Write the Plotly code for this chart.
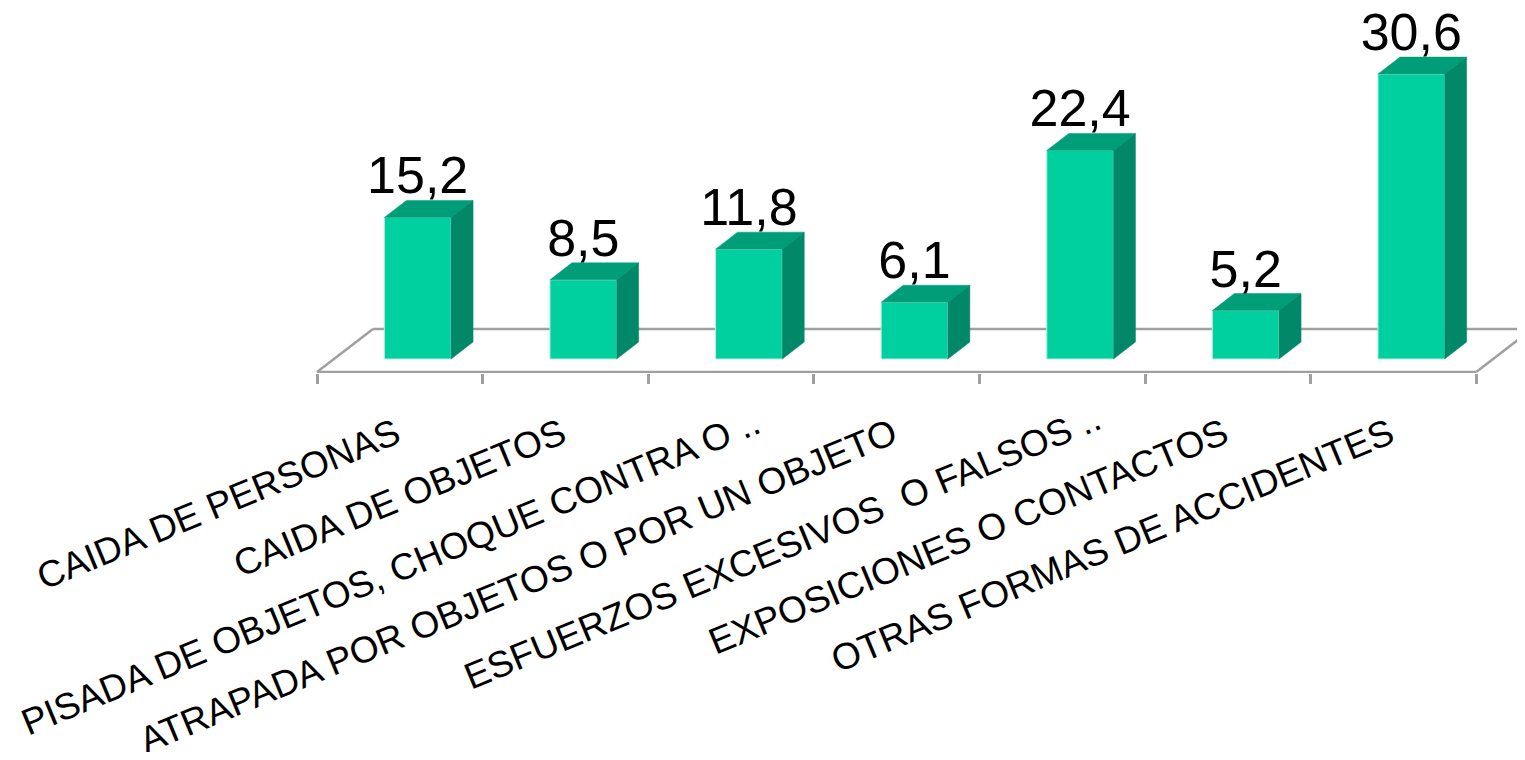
import plotly.graph_objects as go

CATEGORIAS = [
    "CAIDA DE PERSONAS",
    "CAIDA DE OBJETOS",
    "",
    "ATRAPADA POR OBJETOS O POR UN OBJETO",
    "",
    "EXPOSICIONES O CONTACTOS",
    "OTRAS FORMAS DE ACCIDENTES",
]
# estas dos etiquetas van corridas respecto de su marca, como en el original
ETIQUETAS_CORTADAS = {
    2: "PISADA DE OBJETOS, CHOQUE CONTRA O ..",
    4: "ESFUERZOS EXCESIVOS \u00a0O FALSOS ..",
}
VALORES = [15.2, 8.5, 11.8, 6.1, 22.4, 5.2, 30.6]

COLOR_FRENTE = "#00D0A0"
COLOR_TOPE = "#009E78"
COLOR_LADO = "#008868"
COLOR_EJE = "#A0A0A0"

# escala en pixeles de la imagen; la pagina deja 8 px de margen arriba e izquierda
PX_CAT = 165.6
PX_VAL = 9.31
MARGEN_PAGINA = 8
IZQ, BASE, ABAJO = 317, 359, 373
DX, DY = 22 / PX_CAT, 17 / PX_VAL
ANCHO = 66.7 / PX_CAT
DESVIO = 17.9 / PX_CAT
ANGULO = -22.5
FUENTE_EJE = dict(family="Liberation Sans", size=37, color="#000000")

x_min = -0.5 - (IZQ - MARGEN_PAGINA) / PX_CAT
x_max = x_min + 1517 / PX_CAT
y_min = -(ABAJO - BASE) / PX_VAL
y_max = (BASE - MARGEN_PAGINA) / PX_VAL

pos = list(range(len(VALORES)))
izq = [p + DESVIO - ANCHO / 2 for p in pos]
der = [p + DESVIO + ANCHO / 2 for p in pos]

fig = go.Figure()

fig.add_trace(go.Bar(
    x=[p + DESVIO for p in pos],
    y=VALORES,
    width=ANCHO,
    marker=dict(color=COLOR_FRENTE, line=dict(color="#B8EFE0", width=1)),
    showlegend=False,
))

for xi, xd, v in zip(izq, der, VALORES):
    # cara superior
    fig.add_trace(go.Scatter(
        x=[xi, xi + DX, xd + DX, xd, xi],
        y=[v, v + DY, v + DY, v, v],
        fill="toself",
        fillcolor=COLOR_TOPE,
        mode="lines",
        line=dict(color=COLOR_TOPE, width=0.5),
        showlegend=False,
    ))
    # cara lateral
    fig.add_trace(go.Scatter(
        x=[xd, xd + DX, xd + DX, xd, xd],
        y=[0, DY, v + DY, v, 0],
        fill="toself",
        fillcolor=COLOR_LADO,
        mode="lines",
        line=dict(color=COLOR_LADO, width=0.5),
        showlegend=False,
    ))

fig.add_trace(go.Scatter(
    x=[p + DESVIO for p in pos],
    y=[v - 6 / PX_VAL + DY for v in VALORES],
    mode="text",
    text=[f"{v:.1f}".replace(".", ",") for v in VALORES],
    textposition="top center",
    textfont=dict(family="Liberation Sans", size=52, color="#000000"),
    cliponaxis=False,
    showlegend=False,
))

# piso del grafico
y_frente = -(372 - BASE) / PX_VAL
y_fondo = (BASE - 329) / PX_VAL
x_a, x_b = -0.5, len(VALORES) - 0.5
x_fondo = 56 / PX_CAT
tramos = [
    (x_a, y_frente, x_b, y_frente),
    (x_a, y_frente, x_a + x_fondo, y_fondo),
    (x_a + x_fondo, y_fondo, x_b + x_fondo, y_fondo),
    (x_b, y_frente, x_b + x_fondo, y_fondo),
]
for x0, y0, x1, y1 in tramos:
    fig.add_shape(
        type="line", x0=x0, y0=y0, x1=x1, y1=y1,
        xref="x", yref="y", layer="below",
        line=dict(color=COLOR_EJE, width=2.5),
    )

# centro de cada etiqueta cortada, en pixeles de la imagen
centros = {2: (390, 572), 4: (782, 547)}
for i, texto in ETIQUETAS_CORTADAS.items():
    cx, cy = centros[i]
    fig.add_annotation(
        x=(cx - MARGEN_PAGINA) / 1517,
        y=(ABAJO - cy) / (ABAJO - MARGEN_PAGINA),
        xref="paper", yref="paper",
        xanchor="center", yanchor="middle",
        text=texto,
        textangle=ANGULO,
        showarrow=False,
        font=FUENTE_EJE,
    )

fig.update_layout(
    width=1517,
    height=744,
    margin=dict(l=0, r=0, t=0, b=8 + 744 - ABAJO),
    paper_bgcolor="white",
    plot_bgcolor="white",
    showlegend=False,
    xaxis=dict(
        range=[x_min, x_max],
        tickvals=[p - 4 / PX_CAT for p in pos],
        ticktext=CATEGORIAS,
        tickangle=ANGULO,
        ticks="",
        ticklabelstandoff=32,
        ticklabeloverflow="allow",
        automargin=False,
        tickfont=FUENTE_EJE,
        showline=False,
        showgrid=False,
        zeroline=False,
        minor=dict(
            tickvals=[p - 0.5 for p in pos] + [x_b],
            ticks="outside",
            ticklen=10,
            tickwidth=2.5,
            tickcolor=COLOR_EJE,
            showgrid=False,
        ),
    ),
    yaxis=dict(
        range=[y_min, y_max],
        visible=False,
        automargin=False,
    ),
)

fig.write_html("out.html")
